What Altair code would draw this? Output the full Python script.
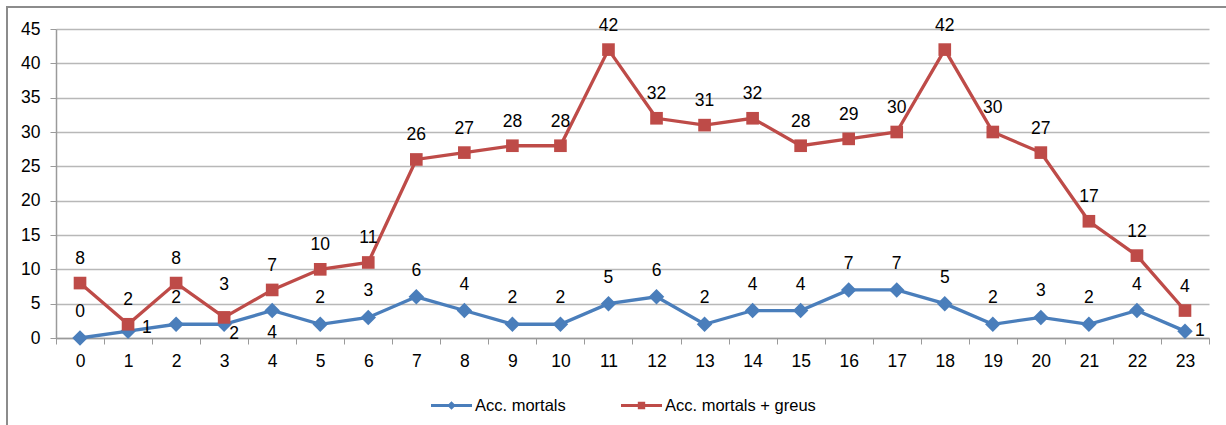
import altair as alt
import pandas as pd

# Hourly accident counts (hour of day 0-23)
hours = list(range(24))
mortals = [0, 1, 2, 2, 4, 2, 3, 6, 4, 2, 2, 5, 6, 2, 4, 4, 7, 7, 5, 2, 3, 2, 4, 1]
mortals_greus = [8, 2, 8, 3, 7, 10, 11, 26, 27, 28, 28, 42, 32, 31, 32, 28, 29, 30, 42, 30, 27, 17, 12, 4]
series_names = ["Acc. mortals", "Acc. mortals + greus"]
y_ticks = list(range(0, 50, 5))

BLUE = "#4a7ebb"
RED = "#be4b48"
FONT = "Liberation Sans"
FS = 17.5

rows = []
for h, a, b in zip(hours, mortals, mortals_greus):
    rows.append({"hora": str(h), "idx": h, "serie": series_names[0], "valor": a})
    rows.append({"hora": str(h), "idx": h, "serie": series_names[1], "valor": b})
df = pd.DataFrame(rows)

W, H = 1153, 309
PAD = {"left": 56, "top": 29, "right": 17, "bottom": 87}

x_enc = alt.X(
    "hora:O",
    sort=[str(h) for h in hours],
    scale=alt.Scale(type="band", paddingInner=0, paddingOuter=0),
    axis=alt.Axis(
        title=None, labelAngle=0, tickBand="extent", grid=False,
        labelFontSize=FS, labelColor="#000000", labelPadding=8,
        tickSize=6, tickColor="#9a9a9a", domainColor="#9a9a9a", domainWidth=1.5,
    ),
)
y_enc = alt.Y(
    "valor:Q",
    scale=alt.Scale(domain=[0, 45], nice=False, zero=True),
    axis=alt.Axis(
        title=None, values=y_ticks, grid=True, gridColor="#b8b8b8", gridWidth=1.5,
        labelFontSize=FS, labelColor="#000000", labelPadding=10,
        tickSize=6, tickColor="#9a9a9a", domainColor="#9a9a9a", domainWidth=1.5,
    ),
)

base = alt.Chart(df).encode(x=x_enc, y=y_enc)


def only(name):
    return f"datum.serie === '{name}'"


line_blue = base.mark_line(strokeWidth=3.3, color=BLUE).transform_filter(only(series_names[0]))
line_red = base.mark_line(strokeWidth=3.3, color=RED).transform_filter(only(series_names[1]))
diamonds = base.mark_point(shape="diamond", size=240, filled=True, opacity=1, color=BLUE).transform_filter(
    only(series_names[0]))
squares = base.mark_point(shape="square", size=160, filled=True, opacity=1, color=RED).transform_filter(
    only(series_names[1]))

# Legend symbols: a short line segment with the series marker in the middle
legend_shapes = [
    "M-1,-0.075L1,-0.075L1,0.075L-1,0.075Z M0,-0.21L0.21,0L0,0.21L-0.21,0Z",
    "M-1,-0.075L1,-0.075L1,0.075L-1,0.075Z M-0.18,-0.18L0.18,-0.18L0.18,0.18L-0.18,0.18Z",
]
legend_layer = base.mark_point(filled=True, opacity=1).encode(
    color=alt.Color("serie:N", scale=alt.Scale(domain=series_names, range=[BLUE, RED]), legend=alt.Legend(
        title=None, orient="none", direction="horizontal",
        legendX=375, legendY=356, symbolSize=1681, symbolStrokeWidth=0,
        labelFontSize=16.5, labelFont=FONT, labelColor="#000000",
        labelOffset=3, columnPadding=55,
    )),
    shape=alt.Shape("serie:N", scale=alt.Scale(domain=series_names, range=legend_shapes)),
).transform_filter("datum.valor < 0")

# Value labels: default above each marker, with a few nudged aside
special = {
    (series_names[0], 1): (14, -3, "left"),
    (series_names[0], 23): (10, 0, "left"),
    (series_names[0], 3): (10, 10, "center"),
    (series_names[0], 4): (0, 22, "center"),
    (series_names[1], 3): (0, -32, "center"),
}
default_dy = {series_names[0]: -26, series_names[1]: -24}

label_layers = []
for name in series_names:
    moved = [h for (s, h) in special if s == name]
    rest = [h for h in hours if h not in moved]
    expr = f"{only(name)} && indexof({rest}, datum.idx) >= 0"
    label_layers.append(
        base.mark_text(dy=default_dy[name], fontSize=FS, font=FONT, color="#000000", baseline="middle")
        .encode(text="valor:Q")
        .transform_filter(expr)
    )
for (name, h), (dx, dy, al) in special.items():
    label_layers.append(
        base.mark_text(dx=dx, dy=dy, align=al, fontSize=FS, font=FONT, color="#000000", baseline="middle")
        .encode(text="valor:Q")
        .transform_filter(f"{only(name)} && datum.idx === {h}")
    )

# Outer frame of the chart area
frame = alt.Chart(pd.DataFrame({"k": [0]})).mark_rect(
    fillOpacity=0, stroke="#8c8c8c", strokeWidth=2
).encode(
    x=alt.value(-49), x2=alt.value(W + 200), y=alt.value(-22), y2=alt.value(H + 300)
)

chart = alt.layer(
    frame, line_blue, diamonds, line_red, squares, legend_layer, *label_layers
).properties(
    width=W, height=H, padding=PAD, autosize=alt.AutoSizeParams(type="none"),
    background="#ffffff",
).configure_view(
    strokeWidth=0
).configure_axis(
    labelFont=FONT
).configure_text(
    font=FONT
)

chart.save("out.html", embed_options={"renderer": "svg", "actions": False})
